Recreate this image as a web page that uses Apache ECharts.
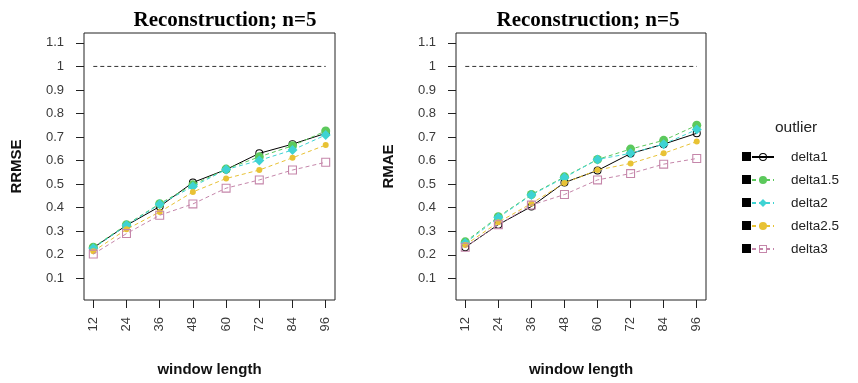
<!DOCTYPE html>
<html><head><meta charset="utf-8">
<script src="https://cdn.jsdelivr.net/npm/echarts@6/dist/echarts.min.js"></script>
<style>html,body{margin:0;padding:0;background:#fff}#c{width:858px;height:383px}</style>
</head><body><div id="c"></div>
<script>
const windowLength = [12, 24, 36, 48, 60, 72, 84, 96];
const seriesNames = ['delta1', 'delta1.5', 'delta2', 'delta2.5', 'delta3'];
const yTicks = [0.1, 0.2, 0.3, 0.4, 0.5, 0.6, 0.7, 0.8, 0.9, 1, 1.1];
const refLevel = 1;

const rrmse_delta1   = [0.230, 0.325, 0.405, 0.507, 0.562, 0.631, 0.670, 0.716];
const rrmse_delta1_5 = [0.232, 0.328, 0.417, 0.497, 0.564, 0.616, 0.663, 0.726];
const rrmse_delta2   = [0.228, 0.325, 0.415, 0.490, 0.562, 0.601, 0.645, 0.709];
const rrmse_delta2_5 = [0.215, 0.308, 0.382, 0.467, 0.524, 0.560, 0.612, 0.666];
const rrmse_delta3   = [0.203, 0.290, 0.368, 0.416, 0.483, 0.518, 0.560, 0.593];

const rmae_delta1   = [0.232, 0.328, 0.405, 0.507, 0.558, 0.630, 0.670, 0.716];
const rmae_delta1_5 = [0.255, 0.362, 0.456, 0.531, 0.605, 0.649, 0.686, 0.750];
const rmae_delta2   = [0.250, 0.358, 0.454, 0.528, 0.605, 0.631, 0.670, 0.732];
const rmae_delta2_5 = [0.242, 0.338, 0.418, 0.505, 0.560, 0.588, 0.631, 0.681];
const rmae_delta3   = [0.232, 0.328, 0.411, 0.456, 0.518, 0.545, 0.585, 0.609];

const colors = ['#000000', '#5cc95c', '#3ed3d3', '#e8c234', '#c586aa'];
// thin open ring / open square as path symbols (hole via opposite winding)
const ringPath = 'path://M10,0A10,10 0 1,1 10,20A10,10 0 1,1 10,0ZM10,2.4A7.6,7.6 0 1,0 10,17.6A7.6,7.6 0 1,0 10,2.4Z';
const squarePath = 'path://M0,0H10V10H0ZM1.2,1.2V8.8H8.8V1.2Z';
const symbols = [ringPath, 'circle', 'diamond', 'circle', squarePath];
const symbolSizes = [8, 9, 10, 6, 9];

const rrmse = [rrmse_delta1, rrmse_delta1_5, rrmse_delta2, rrmse_delta2_5, rrmse_delta3];
const rmae = [rmae_delta1, rmae_delta1_5, rmae_delta2, rmae_delta2_5, rmae_delta3];

const font = 'Liberation Sans, Arial, sans-serif';
const pair = (xs, ys) => xs.map((x, i) => [x, ys[i]]);

function makeSeries(data, gi) {
  const out = data.map((ys, k) => ({
    name: seriesNames[k], type: 'line', xAxisIndex: gi, yAxisIndex: gi,
    data: pair(windowLength, ys),
    symbol: symbols[k], symbolSize: symbolSizes[k], symbolKeepAspect: true,
    itemStyle: {color: colors[k], borderWidth: 0},
    lineStyle: {color: colors[k], width: 1, type: k === 0 ? 'solid' : [4, 3]},
    color: colors[k],
    emphasis: {disabled: true}, animation: false, z: 3 + k
  }));
  out.push({
    name: 'ref', type: 'line', xAxisIndex: gi, yAxisIndex: gi,
    data: [[windowLength[0], refLevel], [windowLength[windowLength.length - 1], refLevel]],
    symbol: 'none', lineStyle: {color: '#333', width: 1, type: [4, 3]},
    animation: false, silent: true, z: 2
  });
  return out;
}

function xAx(gi) {
  return {
    gridIndex: gi, type: 'value', min: 8.64, max: 99.36,
    axisLine: {show: false},
    axisTick: {show: true, customValues: windowLength, length: 8, lineStyle: {color: '#222'}},
    axisLabel: {customValues: windowLength, rotate: 90, margin: 17, fontSize: 13, color: '#3a3a3a', fontFamily: font},
    splitLine: {show: false},
    name: 'window length', nameLocation: 'middle', nameGap: 62,
    nameTextStyle: {fontSize: 15, fontWeight: 'bold', fontFamily: font, color: '#111'}
  };
}
function yAx(gi, name) {
  return {
    gridIndex: gi, type: 'value', min: 0.008, max: 1.142,
    axisLine: {show: false},
    axisTick: {show: true, customValues: yTicks, length: 8, lineStyle: {color: '#222'}},
    axisLabel: {customValues: yTicks, margin: 20, fontSize: 13, color: '#3a3a3a', fontFamily: font},
    splitLine: {show: false},
    name: name, nameLocation: 'middle', nameGap: 60, nameRotate: 90,
    nameTextStyle: {fontSize: 15, fontWeight: 'bold', fontFamily: font, color: '#111'}
  };
}

const chart = echarts.init(document.getElementById('c'), null, {renderer: 'canvas'});
chart.setOption({
  animation: false,
  backgroundColor: '#fff',
  title: [
    {text: 'Reconstruction; n=5', left: 220, top: 5, textAlign: 'center',
     textStyle: {fontFamily: 'Liberation Serif, Times New Roman, serif', fontWeight: 'bold', fontSize: 21, color: '#000'}},
    {text: 'Reconstruction; n=5', left: 583, top: 5, textAlign: 'center',
     textStyle: {fontFamily: 'Liberation Serif, Times New Roman, serif', fontWeight: 'bold', fontSize: 21, color: '#000'}},
    {text: 'outlier', left: 770, top: 115,
     textStyle: {fontFamily: font, fontWeight: 'normal', fontSize: 15.5, color: '#222'}}
  ],
  grid: [
    {left: 84, top: 33, width: 251, height: 267, show: true, borderColor: '#222', borderWidth: 1, backgroundColor: 'transparent'},
    {left: 456, top: 33, width: 250, height: 267, show: true, borderColor: '#222', borderWidth: 1, backgroundColor: 'transparent'}
  ],
  xAxis: [xAx(0), xAx(1)],
  yAxis: [yAx(0, 'RRMSE'), yAx(1, 'RMAE')],
  legend: [
    {data: seriesNames.map(n => ({name: n, icon: 'rect', itemStyle: {color: '#000', borderWidth: 0}})),
     orient: 'vertical', left: 742, top: 152, padding: 0, itemWidth: 9, itemHeight: 9, itemGap: 14,
     formatter: () => '', selectedMode: false, textStyle: {fontSize: 1}},
    {data: seriesNames, orient: 'vertical', left: 751, top: 149, padding: 0, itemWidth: 22, itemHeight: 10, itemGap: 7,
     selectedMode: false, itemStyle: {borderWidth: 0},
     textStyle: {fontSize: 13.5, lineHeight: 16, fontFamily: font, color: '#222', padding: [0, 0, 0, 12]}}
  ],
  series: [...makeSeries(rrmse, 0), ...makeSeries(rmae, 1)]
});
</script></body></html>
